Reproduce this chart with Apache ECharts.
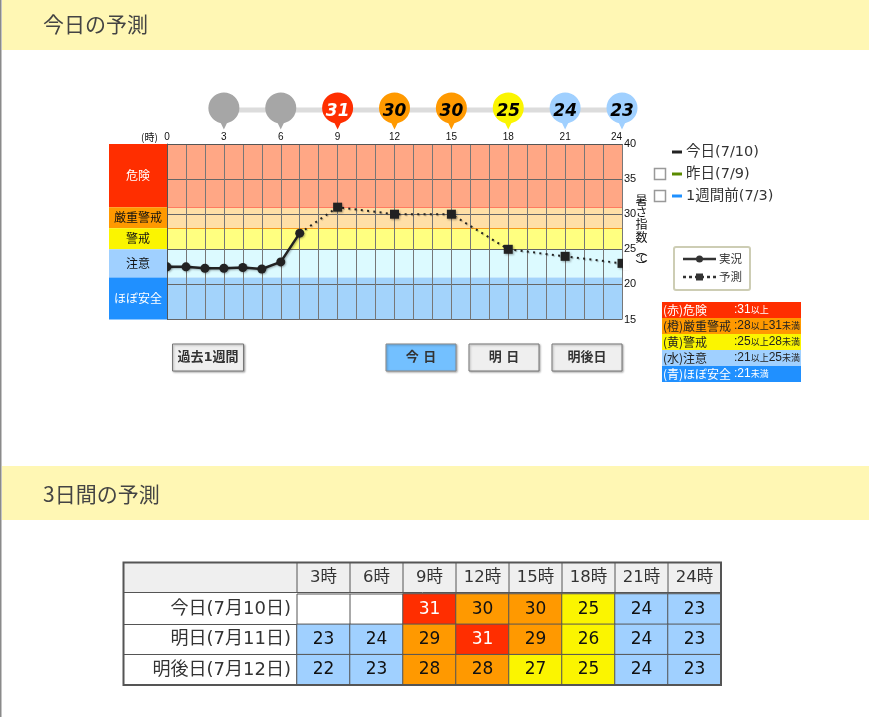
<!DOCTYPE html>
<html>
<head>
<meta charset="utf-8">
<title>今日の予測</title>
<script src="https://cdn.jsdelivr.net/npm/echarts@6/dist/echarts.min.js"></script>
<style>
html, body { margin: 0; padding: 0; background: #fff; }
#main { width: 869px; height: 717px; }
</style>
</head>
<body>
<div id="main"></div>
<script>
// 実況と予測
var actualHours = [0, 1, 2, 3, 4, 5, 6, 7];
var actualValues = [22.5, 22.5, 22.3, 22.3, 22.4, 22.2, 23.2, 27.3];
var forecastHours = [7, 9, 12, 15, 18, 21, 24];
var forecastValues = [27.3, 31, 30, 30, 25, 24, 23];

// ピン
var pinHours = [3, 6, 9, 12, 15, 18, 21, 24];
var pinValues = [null, null, 31, 30, 30, 25, 24, 23];

// 危険度の区分
var levelNames = ['危険', '厳重警戒', '警戒', '注意', 'ほぼ安全'];
var levelFrom = [31, 28, 25, 21, 15];
var levelTo = [40, 31, 28, 25, 21];

// 3日間の表
var tableHours = ['3時', '6時', '9時', '12時', '15時', '18時', '21時', '24時'];
var tableDays = ['今日(7月10日)', '明日(7月11日)', '明後日(7月12日)'];
var todayRow = [null, null, 31, 30, 30, 25, 24, 23];
var tomorrowRow = [23, 24, 29, 31, 29, 26, 24, 23];
var dayAfterRow = [22, 23, 28, 28, 27, 25, 24, 23];

// 凡例の文字
var legendNames = ['今日(7/10)', '昨日(7/9)', '1週間前(7/3)'];
var keyNames = ['(赤)危険', '(橙)厳重警戒', '(黄)警戒', '(水)注意', '(青)ほぼ安全'];
var keyRanges = [
    ['31', '以上'],
    ['28', '以上', '31', '未満'],
    ['25', '以上', '28', '未満'],
    ['21', '以上', '25', '未満'],
    ['21', '未満']
];
var buttonNames = ['過去1週間', '今 日', '明 日', '明後日'];

var solidColors = ['#ff2e00', '#ff9900', '#fbf500', '#a0d0ff', '#2090ff'];
var paleColors = ['#ffa785', '#ffdfa6', '#ffff80', '#dcfaff', '#a3d3fb'];
var levelText = ['#fff', '#111', '#111', '#111', '#fff'];
var lineColors = ['#ff7a60', '#f59a1a', '#e8e000', null, null];

var latin = '"DejaVu Sans","Noto Sans CJK JP"';
var narrow = '"Liberation Sans Narrow","Liberation Sans","Noto Sans CJK JP"';
var cjk = '"Noto Sans CJK JP"';

function levelIndex(v) {
    for (var i = 0; i < levelFrom.length; i++) {
        if (v >= levelFrom[i]) return i;
    }
    return levelFrom.length - 1;
}

function zip(xs, ys) {
    return xs.map(function (x, i) { return [x, ys[i]]; });
}

// 左の帯
function bandAreas(colors, withLabel) {
    return levelNames.map(function (name, i) {
        return [{
            yAxis: levelFrom[i],
            name: withLabel ? name : '',
            itemStyle: { color: colors[i], opacity: 1 },
            label: { color: levelText[i] }
        }, { yAxis: levelTo[i] }];
    });
}

// 表のセル
function tableCells() {
    var cells = [];
    [todayRow, tomorrowRow, dayAfterRow].forEach(function (row, r) {
        row.forEach(function (v, c) {
            if (v === null) return;
            var lv = levelIndex(v);
            cells.push({
                value: [c, r, v],
                itemStyle: { color: solidColors[lv] },
                label: { color: lv === 0 ? '#fff' : '#111' }
            });
        });
    });
    return cells;
}

function buildGraphic() {
    var g = [];
    function rect(x, y, w, h, fill, stroke, lw, extra) {
        var e = { type: 'rect', shape: { x: x, y: y, width: w, height: h }, style: { fill: fill, stroke: stroke || null, lineWidth: lw || 0 }, silent: true, z: -10 };
        if (extra) {
            for (var k in extra.shape || {}) e.shape[k] = extra.shape[k];
            for (var s in extra.style || {}) e.style[s] = extra.style[s];
        }
        g.push(e);
    }
    function line(x1, y1, x2, y2, color, w, dash) {
        g.push({ type: 'line', shape: { x1: x1, y1: y1, x2: x2, y2: y2 }, style: { stroke: color, lineWidth: w, lineDash: dash || null }, silent: true, z: 1 });
    }
    function text(x, y, str, size, color, font, extra) {
        var st = { x: x, y: y, text: str, fontSize: size, fill: color, fontFamily: font, verticalAlign: 'middle', align: 'left' };
        for (var k in extra || {}) st[k] = extra[k];
        g.push({ type: 'text', style: st, silent: true, z: 5 });
    }

    // 見出し
    rect(0, 0, 1.5, 717, '#8a8a8a');
    rect(2, 0, 867, 50, '#fff7b4');
    rect(2, 466, 867, 54, '#fff7b4');
    text(43, 24, '今日の予測', 21, '#444', cjk);
    text(43, 494, '3日間の予測', 21, '#444', cjk);

    text(141, 137, '(時)', 10, '#111', cjk);
    // 縦書きの軸名
    var axisChars = ['暑', 'さ', '指', '数', '︵', '℃', '︶'];
    var axisCharY = [200, 212, 224, 237, 250, 258, 266];
    axisChars.forEach(function (ch, i) {
        text(641.5, axisCharY[i], ch, i === 5 ? 10 : 12, '#111', cjk, { align: 'center' });
    });

    // 凡例
    var legendColors = ['#222', '#5a8a00', '#1e90ff'];
    legendNames.forEach(function (name, i) {
        var y = 152 + i * 22;
        line(672, y, 682, y, legendColors[i], 3);
        text(686, y, name, 14.5, '#333', latin);
        if (i > 0) rect(654.5, y - 5.5, 11, 11, '#fff', '#999', 1.5);
    });

    rect(674, 247, 76, 43, '#fff', '#cdcdb4', 2, { shape: { r: 2 } });
    line(683, 259, 716, 259, '#333', 2.5);
    g.push({ type: 'circle', shape: { cx: 699.5, cy: 259, r: 3.5 }, style: { fill: '#333' }, silent: true, z: 2 });
    line(683, 277, 716, 277, '#333', 2.5, [3, 3]);
    rect(696, 273.5, 7, 7, '#333');
    g[g.length - 1].z = 2;
    text(719, 259, '実況', 11.5, '#333', cjk);
    text(719, 277, '予測', 11.5, '#333', cjk);

    // 区分の説明
    keyNames.forEach(function (name, i) {
        var y = 302 + i * 16;
        rect(662, y, 139, 16, solidColors[i]);
        var c = i === 0 || i === 4 ? '#fff' : '#222';
        text(663, y + 8, name, 12, c, cjk);
        var parts = keyRanges[i].map(function (p, k) {
            return (k % 2 === 0 ? '{n|' : '{s|') + p + '}';
        }).join('');
        text(734, y + 8, '{n|:}' + parts, 12, c, cjk, {
            rich: {
                n: { fontSize: 12, fontFamily: narrow, fill: c },
                s: { fontSize: 9, fontFamily: cjk, fill: c }
            }
        });
    });

    // ボタン
    var btnX = [172.5, 386, 469, 552];
    var btnW = [71, 70, 70, 70];
    buttonNames.forEach(function (name, i) {
        var on = i === 1;
        g.push({
            type: 'rect', shape: { x: btnX[i], y: 344, width: btnW[i], height: 27 },
            style: { fill: on ? '#73c0ff' : '#efefef', stroke: on ? '#888' : '#777', lineWidth: 1, shadowColor: 'rgba(0,0,0,0.3)', shadowBlur: 2, shadowOffsetX: 1, shadowOffsetY: 1 },
            silent: true, z: -5
        });
        text(btnX[i] + btnW[i] / 2, 358, name, 13, '#333', latin, { align: 'center', fontWeight: 'bold' });
    });

    // 表の枠
    rect(124, 563, 597, 29, '#efefef');
    var colW = 424 / 8;
    for (var c = 0; c <= 8; c++) {
        line(297 + c * colW, 563, 297 + c * colW, 592, '#555', 1);
    }
    line(124, 592.5, 721, 592.5, '#555', 1);
    line(297, 594, 297, 685, '#555', 1);
    line(297 + colW, 594, 297 + colW, 624, '#555', 1);
    line(124, 624.5, 297, 624.5, '#555', 1);
    line(124, 654.5, 297, 654.5, '#555', 1);
    line(297, 594, 721, 594, '#555', 1);
    line(297, 624.5, 403, 624.5, '#555', 1);
    rect(123.5, 562.5, 597.5, 122.5, 'none', '#555', 2);
    g[g.length - 1].z = 4;

    // 右端で四角を切る
    g.push({ type: 'rect', shape: { x: 623, y: 256, width: 6, height: 14 }, style: { fill: '#fff' }, silent: true, zlevel: 1 });

    return g;
}

function initChart() {
    var myChart = echarts.init(document.getElementById('main'), null, { renderer: 'canvas' });

    var option = {
        animation: false,
        backgroundColor: '#fff',
        textStyle: { fontFamily: cjk },
        graphic: { elements: buildGraphic() },
        grid: [
            { left: 167, top: 144, width: 455, height: 175.5, z: 2 },
            { left: 109, top: 144, width: 58, height: 175.5 },
            { left: 167, top: 90, width: 455, height: 40 },
            { left: 297, top: 594, width: 424, height: 91 }
        ],
        xAxis: [
            {
                gridIndex: 0, type: 'value', position: 'top', min: 0, max: 24, interval: 1, z: 2,
                axisLine: { show: true, lineStyle: { color: '#555' } },
                axisTick: { show: false },
                axisLabel: {
                    margin: 2, fontSize: 10, color: '#111', fontFamily: narrow, hideOverlap: false, alignMaxLabel: 'right',
                    formatter: function (v) { return v % 3 === 0 ? String(v) : ''; }
                },
                splitLine: { show: true, lineStyle: { color: '#777', width: 1 } }
            },
            { gridIndex: 1, type: 'value', min: 0, max: 1, show: false },
            { gridIndex: 2, type: 'value', min: 0, max: 24, show: false },
            {
                gridIndex: 3, type: 'category', position: 'top', data: tableHours,
                axisLine: { show: false }, axisTick: { show: false },
                axisLabel: { margin: 8, fontSize: 16.5, color: '#333', fontFamily: latin, interval: 0 },
                splitLine: { show: false }
            }
        ],
        yAxis: [
            {
                gridIndex: 0, type: 'value', position: 'right', min: 15, max: 40, interval: 5, z: 2,
                axisLine: { show: true, lineStyle: { color: '#555' } },
                axisTick: { show: false },
                axisLabel: { margin: 2, fontSize: 11, color: '#111', fontFamily: narrow },
                splitLine: { show: true, lineStyle: { color: '#666', width: 1 } }
            },
            { gridIndex: 1, type: 'value', min: 15, max: 40, show: false },
            { gridIndex: 2, type: 'category', data: ['pin'], show: false },
            {
                gridIndex: 3, type: 'category', inverse: true, data: tableDays,
                axisLine: { show: false }, axisTick: { show: false },
                axisLabel: { margin: 6, fontSize: 18, color: '#333', fontFamily: latin, interval: 0 },
                splitLine: { show: false }
            }
        ],
        series: [
            {
                // 背景の帯
                type: 'line', xAxisIndex: 0, yAxisIndex: 0, data: [], z: 1, silent: true,
                markArea: { silent: true, z: 1, data: bandAreas(paleColors, false), label: { show: false } },
                markLine: {
                    silent: true, symbol: 'none', z: 1, label: { show: false },
                    data: levelFrom.map(function (v, i) {
                        return { yAxis: v, lineStyle: { color: lineColors[i] || 'transparent', width: 1, type: 'solid' } };
                    })
                }
            },
            {
                // 左の区分名
                type: 'line', xAxisIndex: 1, yAxisIndex: 1, data: [], silent: true,
                markArea: {
                    silent: true, z: 7,
                    label: { show: true, position: 'inside', fontSize: 12, fontFamily: cjk },
                    data: bandAreas(solidColors, true)
                }
            },
            {
                // 実況
                type: 'line', xAxisIndex: 0, yAxisIndex: 0, z: 6, name: '実況',
                data: zip(actualHours, actualValues),
                symbol: 'circle', symbolSize: 9,
                lineStyle: { color: '#222', width: 2.5, shadowColor: 'rgba(0,0,0,0.3)', shadowBlur: 2, shadowOffsetX: 1, shadowOffsetY: 1 },
                itemStyle: { color: '#222', shadowColor: 'rgba(0,0,0,0.3)', shadowBlur: 2, shadowOffsetX: 1, shadowOffsetY: 1 }
            },
            {
                // 予測
                type: 'line', xAxisIndex: 0, yAxisIndex: 0, z: 5, name: '予測',
                data: zip(forecastHours, forecastValues),
                symbol: function (v, p) { return p.dataIndex === 0 ? 'none' : 'rect'; },
                symbolSize: 9,
                lineStyle: { color: '#222', width: 2, type: [2, 4.3], shadowColor: 'rgba(0,0,0,0.25)', shadowBlur: 1, shadowOffsetX: 1, shadowOffsetY: 1 },
                itemStyle: { color: '#222', shadowColor: 'rgba(0,0,0,0.3)', shadowBlur: 2, shadowOffsetX: 1, shadowOffsetY: 1 }
            },
            {
                // ピンの線
                type: 'line', xAxisIndex: 2, yAxisIndex: 2, z: 1, silent: true, symbol: 'none',
                data: pinHours.map(function (h) { return [h, 'pin']; }),
                lineStyle: { color: '#dcdcdc', width: 5 }
            },
            {
                // ピン
                type: 'scatter', xAxisIndex: 2, yAxisIndex: 2, z: 3, clip: false, silent: true,
                symbol: 'path://M15.5 0A15.5 15.5 0 0 1 18.5 30.7L15.5 37L12.5 30.7A15.5 15.5 0 0 1 15.5 0Z',
                symbolSize: [31, 37], symbolOffset: [0, 1],
                data: pinHours.map(function (h, i) {
                    var v = pinValues[i];
                    var lv = v === null ? -1 : levelIndex(v);
                    return {
                        value: [h, 'pin'],
                        itemStyle: { color: v === null ? '#a6a6a6' : solidColors[lv], opacity: 1 },
                        label: {
                            show: v !== null,
                            formatter: v === null ? '' : String(v),
                            color: lv === 0 ? '#fff' : '#000'
                        }
                    };
                }),
                label: { position: 'inside', offset: [0, 1], fontSize: 17, fontWeight: 'bold', fontStyle: 'italic', fontFamily: '"DejaVu Sans"' }
            },
            {
                // 3日間の表
                type: 'heatmap', xAxisIndex: 3, yAxisIndex: 3, z: 2, silent: true,
                data: tableCells(),
                encode: { x: 0, y: 1, value: 2 },
                label: {
                    show: true, fontSize: 17, fontFamily: latin,
                    formatter: function (p) { return p.value[2]; }
                },
                itemStyle: { borderColor: '#555', borderWidth: 1 }
            }
        ]
    };

    myChart.setOption(option);
    resize(myChart);
}

// 響応式
function resize(echart) {
    window.onresize = function () {
        echart.resize();
    };
}

initChart();
</script>
</body>
</html>
